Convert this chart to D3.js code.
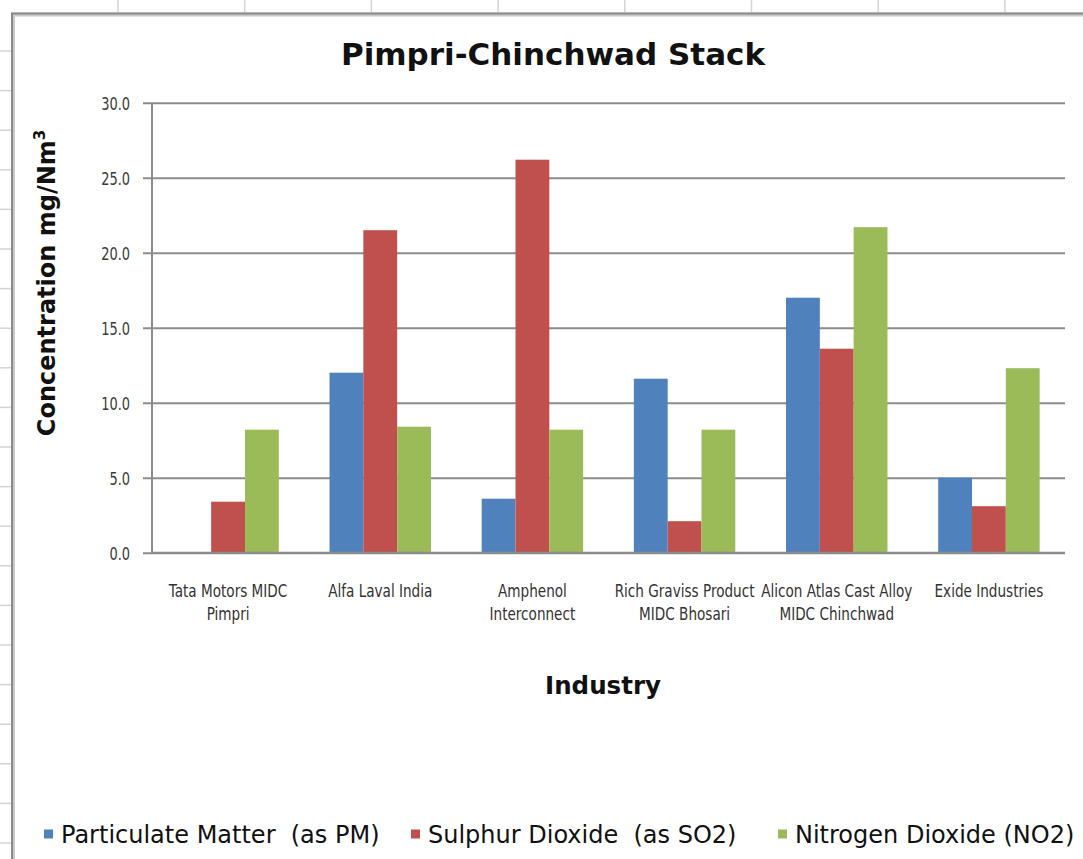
<!DOCTYPE html>
<html>
<head>
<meta charset="utf-8">
<script src="https://cdn.jsdelivr.net/npm/d3@7"></script>
<style>
  html, body { margin: 0; padding: 0; background: #ffffff; }
  svg { display: block; }
</style>
</head>
<body>
<svg id="chart" width="1083" height="859"></svg>
<script>
// Stack emission concentrations (mg/Nm³) by industry, Pimpri-Chinchwad
const categories = [
  "Tata Motors MIDC\nPimpri",
  "Alfa Laval India",
  "Amphenol\nInterconnect",
  "Rich Graviss Product\nMIDC Bhosari",
  "Alicon Atlas Cast Alloy\nMIDC Chinchwad",
  "Exide Industries"
];
const seriesNames = [
  "Particulate Matter  (as PM)",
  "Sulphur Dioxide  (as SO2)",
  "Nitrogen Dioxide (NO2)"
];
const particulateMatter = [null, 12.0, 3.6, 11.6, 17.0, 5.0];
const sulphurDioxide    = [3.4, 21.5, 26.2, 2.1, 13.6, 3.1];
const nitrogenDioxide   = [8.2, 8.4, 8.2, 8.2, 21.7, 12.3];
const yTicks = [0, 5, 10, 15, 20, 25, 30];
const seriesColors = ["#4F81BD", "#C0504D", "#9BBB59"];

const seriesValues = [particulateMatter, sulphurDioxide, nitrogenDioxide];

const svg = d3.select("#chart");
const W = 1083, H = 859;
const narrowFont = "'DejaVu Sans Condensed', 'DejaVu Sans', sans-serif";

// ---- worksheet backdrop behind the chart object ----
const sheet = svg.append("g").attr("class", "sheet");
sheet.append("rect").attr("width", W).attr("height", H).attr("fill", "#ffffff");
const colEdges = d3.range(118, W, 126.7);
sheet.selectAll("line.col").data(colEdges).join("line")
  .attr("class", "col")
  .attr("x1", d => d).attr("x2", d => d)
  .attr("y1", 0).attr("y2", 12)
  .attr("stroke", "#d4d4d4").attr("stroke-width", 1.5);
const rowEdges = d3.range(51, H, 39.6);
sheet.selectAll("line.row").data(rowEdges).join("line")
  .attr("class", "row")
  .attr("x1", 0).attr("x2", 11)
  .attr("y1", d => d).attr("y2", d => d)
  .attr("stroke", "#d4d4d4").attr("stroke-width", 1.5);

// chart object frame (runs past the right and bottom edges)
svg.append("path")
  .attr("d", `M13,${H + 5} V14.5 H${W + 5}`)
  .attr("fill", "none").attr("stroke", "#c8c8c8").attr("stroke-width", 4);
svg.append("path")
  .attr("d", `M12,${H + 5} V13.5 H${W + 5}`)
  .attr("fill", "none").attr("stroke", "#8a8a8a").attr("stroke-width", 2);

// ---- plot area ----
const plot = { left: 152, right: 1065, top: 102.7, bottom: 552.7 };

const x = d3.scaleBand()
  .domain(categories)
  .range([plot.left, plot.right])
  .paddingInner(0).paddingOuter(0);

const y = d3.scaleLinear()
  .domain([0, 30])
  .range([plot.bottom, plot.top]);

// clustered bars: gap width 150% of a bar
const barW = x.bandwidth() / (seriesNames.length + 1.5);
const xInner = d3.scaleBand()
  .domain(d3.range(seriesNames.length))
  .range([barW * 0.75, barW * 0.75 + barW * seriesNames.length])
  .padding(0);

// horizontal gridlines with short ticks on the left
const yAxis = d3.axisLeft(y)
  .tickValues(yTicks)
  .tickSize(-(plot.right - plot.left))
  .tickFormat(d3.format(".1f"));

const gy = svg.append("g")
  .attr("transform", `translate(${plot.left},0)`)
  .call(yAxis);
gy.select(".domain").remove();
gy.selectAll(".tick line")
  .attr("x1", -9)
  .attr("stroke", "#8c8c8c").attr("stroke-width", 2);
// narrow, tall tick numerals
gy.selectAll(".tick text")
  .attr("x", null)
  .attr("dy", null)
  .attr("transform", "translate(-22,6.5) scale(0.8,1)")
  .attr("text-anchor", "end")
  .attr("font-family", narrowFont)
  .attr("font-size", 18)
  .attr("fill", "#3a3a3a");

// vertical value axis line
svg.append("line")
  .attr("x1", plot.left).attr("x2", plot.left)
  .attr("y1", plot.top).attr("y2", plot.bottom)
  .attr("stroke", "#8c8c8c").attr("stroke-width", 2);

// bars
const groups = svg.append("g").selectAll("g.cat")
  .data(categories)
  .join("g")
  .attr("class", "cat")
  .attr("transform", d => `translate(${x(d)},0)`);

groups.selectAll("rect")
  .data((d, i) => seriesValues.map((vals, s) => ({ s, v: vals[i] })).filter(e => e.v != null))
  .join("rect")
  .attr("x", e => xInner(e.s))
  .attr("width", xInner.bandwidth())
  .attr("y", e => y(e.v))
  .attr("height", e => y(0) - y(e.v))
  .attr("fill", e => seriesColors[e.s]);

// category axis baseline
svg.append("line")
  .attr("x1", plot.left).attr("x2", plot.right)
  .attr("y1", plot.bottom).attr("y2", plot.bottom)
  .attr("stroke", "#8c8c8c").attr("stroke-width", 2);

// category labels (wrapped on two lines, narrow face)
const catLabels = svg.append("g").selectAll("text")
  .data(categories)
  .join("text")
  .attr("transform", d => `translate(${x(d) + x.bandwidth() / 2},597) scale(0.84,1)`)
  .attr("text-anchor", "middle")
  .attr("font-family", narrowFont)
  .attr("font-size", 18)
  .attr("fill", "#333333");
catLabels.selectAll("tspan")
  .data(d => d.split("\n"))
  .join("tspan")
  .attr("x", 0)
  .attr("dy", (d, i) => i === 0 ? 0 : 23)
  .text(d => d);

// title
svg.append("text")
  .attr("x", 553).attr("y", 65)
  .attr("text-anchor", "middle")
  .attr("font-family", "'DejaVu Sans', sans-serif")
  .attr("font-weight", "bold")
  .attr("font-size", 31)
  .attr("fill", "#111111")
  .text("Pimpri-Chinchwad Stack");

// value axis title
const yTitle = svg.append("text")
  .attr("transform", "translate(55,283) rotate(-90)")
  .attr("text-anchor", "middle")
  .attr("font-family", "'DejaVu Sans', sans-serif")
  .attr("font-weight", "bold")
  .attr("font-size", 24)
  .attr("fill", "#111111");
yTitle.append("tspan").text("Concentration mg/Nm");
yTitle.append("tspan").attr("font-size", 15).attr("dy", -10).text("3");

// category axis title
svg.append("text")
  .attr("x", 603).attr("y", 694)
  .attr("text-anchor", "middle")
  .attr("font-family", "'DejaVu Sans', sans-serif")
  .attr("font-weight", "bold")
  .attr("font-size", 24.5)
  .attr("fill", "#111111")
  .text("Industry");

// legend
const legendX = [44, 411, 778];
const legend = svg.append("g").selectAll("g")
  .data(seriesNames)
  .join("g")
  .attr("transform", (d, i) => `translate(${legendX[i]},834)`);
legend.append("rect")
  .attr("x", 0).attr("y", -4.5)
  .attr("width", 9).attr("height", 9)
  .attr("fill", (d, i) => seriesColors[i]);
legend.append("text")
  .attr("x", 17).attr("y", 9)
  .attr("font-family", "'DejaVu Sans', sans-serif")
  .attr("font-size", 24)
  .attr("fill", "#111111")
  .style("white-space", "pre")
  .text(d => d);
</script>
</body>
</html>
